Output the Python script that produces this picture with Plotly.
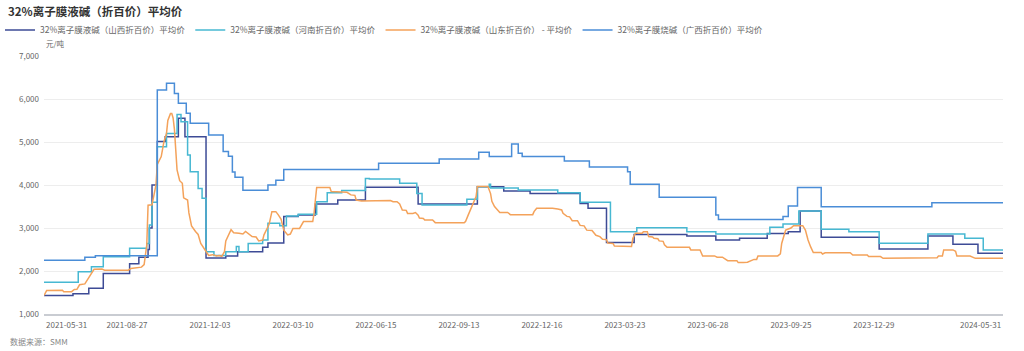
import plotly.graph_objects as go

TITLE = "32%离子膜液碱（折百价）平均价"
UNIT = "元/吨"
SOURCE = "数据来源：SMM"

names = [
    "32%离子膜液碱（山西折百价）平均价",
    "32%离子膜液碱（河南折百价）平均价",
    "32%离子膜液碱（山东折百价） - 平均价",
    "32%离子膜烧碱（广西折百价）平均价",
]
colors = ["#3d4b96", "#47b8d2", "#f4a25a", "#4a8dd7"]

# x-axis tick labels (category labels shown on the axis)
tick_labels = ["2021-05-31", "2021-08-27", "2021-12-03", "2022-03-10", "2022-06-15", "2022-09-13",
               "2022-12-16", "2023-03-23", "2023-06-28", "2023-09-25", "2023-12-29", "2024-05-31"]

# Non-trading weekdays (Chinese market holidays) in the period
holidays = [
    "2021-06-14", "2021-09-20", "2021-09-21", "2021-10-01", "2021-10-04", "2021-10-05", "2021-10-06", "2021-10-07",
    "2022-01-03", "2022-01-31", "2022-02-01", "2022-02-02", "2022-02-03", "2022-02-04", "2022-04-04", "2022-04-05",
    "2022-05-02", "2022-05-03", "2022-05-04", "2022-06-03", "2022-09-12", "2022-10-03", "2022-10-04", "2022-10-05",
    "2022-10-06", "2022-10-07",
    "2023-01-02", "2023-01-23", "2023-01-24", "2023-01-25", "2023-01-26", "2023-01-27", "2023-04-05", "2023-05-01",
    "2023-05-02", "2023-05-03", "2023-06-22", "2023-06-23", "2023-09-29", "2023-10-02", "2023-10-03", "2023-10-04",
    "2023-10-05", "2023-10-06",
    "2024-01-01", "2024-02-09", "2024-02-12", "2024-02-13", "2024-02-14", "2024-02-15", "2024-02-16", "2024-04-04",
    "2024-04-05", "2024-05-01", "2024-05-02", "2024-05-03",
]

# 山西 (step changes: date, price)
shanxi_dates = ["2021-05-31", "2021-07-01", "2021-07-19", "2021-08-03", "2021-08-31", "2021-09-09", "2021-09-22",
                "2021-09-23", "2021-09-27", "2021-10-08", "2021-10-18", "2021-11-01", "2021-11-08", "2021-11-30",
                "2021-12-21", "2022-01-04", "2022-02-07", "2022-02-11", "2022-03-01", "2022-03-16", "2022-04-06",
                "2022-04-29", "2022-06-02", "2022-07-29", "2022-10-10", "2022-11-07", "2022-12-05", "2023-02-03",
                "2023-02-13", "2023-03-03", "2023-04-03", "2023-06-02", "2023-07-06", "2023-08-01", "2023-08-30",
                "2023-09-21", "2023-10-12", "2023-11-03", "2024-01-05", "2024-03-06", "2024-04-02", "2024-05-06",
                "2024-05-31"]
shanxi_vals = [1430, 1470, 1600, 1940, 2170, 2320, 2500,
               3000, 4000, 5010, 5120, 5550, 5120, 2300,
               2350, 2450, 2550, 2650, 3270, 3300, 3560,
               3650, 3950, 3560, 3960, 3860, 3800, 3570,
               3460, 2660, 2850, 2815, 2720, 2760, 2875,
               2915, 3395, 2785, 2510, 2815, 2620, 2410,
               2410]

# 河南
henan_dates = ["2021-05-31", "2021-07-07", "2021-07-21", "2021-08-03", "2021-08-31", "2021-09-17", "2021-09-23",
               "2021-09-27", "2021-10-08", "2021-10-19", "2021-10-29", "2021-11-03", "2021-11-10", "2021-11-12",
               "2021-11-22", "2021-11-25", "2021-11-30", "2021-12-08", "2021-12-21", "2021-12-31", "2022-01-05",
               "2022-01-14", "2022-02-07", "2022-02-11", "2022-02-24", "2022-03-03", "2022-03-16", "2022-04-07",
               "2022-04-19", "2022-05-09", "2022-06-02", "2022-06-08", "2022-07-11", "2022-07-28", "2022-08-03",
               "2022-09-21", "2022-10-10", "2022-10-21", "2022-10-24", "2022-11-22", "2023-01-04", "2023-02-03",
               "2023-03-08", "2023-04-06", "2023-06-02", "2023-07-06", "2023-09-01", "2023-09-15", "2023-10-11",
               "2023-11-03", "2023-12-04", "2024-01-05", "2024-03-06", "2024-04-17", "2024-05-10", "2024-05-31"]
henan_vals = [1740, 1980, 2100, 2330, 2530, 2640, 3070,
              3600, 4890, 5200, 5640, 5470, 4700, 4310,
              3920, 3690, 2450, 2360, 2450, 2570, 2450,
              2640, 2720, 3110, 3050, 3280, 3320, 3610,
              3820, 3870, 4150, 4140, 4040, 3800, 3535,
              3670, 3960, 4020, 3930, 3885, 3822, 3600,
              2915, 3008, 2915, 2860, 3016, 3093, 3395,
              2970, 2915, 2643, 2860, 2760, 2490, 2490]

# 山东
shandong_dates = [
    "2021-05-31", "2021-06-02", "2021-06-21", "2021-06-22", "2021-06-30", "2021-07-02", "2021-07-06", "2021-07-08",
    "2021-07-14", "2021-07-16", "2021-07-21", "2021-07-23", "2021-08-02", "2021-08-04", "2021-08-30", "2021-09-01",
    "2021-09-13", "2021-09-15", "2021-09-17", "2021-09-22", "2021-09-27", "2021-09-30", "2021-10-08", "2021-10-13",
    "2021-10-15", "2021-10-19", "2021-10-20", "2021-10-22", "2021-10-25", "2021-10-26", "2021-10-27", "2021-10-28",
    "2021-10-29", "2021-11-02", "2021-11-04", "2021-11-05", "2021-11-10", "2021-11-11", "2021-11-15", "2021-11-18",
    "2021-11-22", "2021-11-24", "2021-11-29", "2021-12-02", "2021-12-07", "2021-12-10", "2021-12-14", "2021-12-16",
    "2021-12-20", "2021-12-21", "2021-12-27", "2021-12-29", "2022-01-05", "2022-01-10", "2022-01-12", "2022-01-13",
    "2022-01-17", "2022-01-19", "2022-01-24", "2022-01-26", "2022-02-07", "2022-02-08", "2022-02-11", "2022-02-14",
    "2022-02-16", "2022-02-21", "2022-02-23", "2022-02-25", "2022-03-01", "2022-03-04", "2022-03-08", "2022-03-10",
    "2022-03-17", "2022-03-22", "2022-03-31", "2022-04-01", "2022-04-06", "2022-04-07", "2022-04-21", "2022-04-22",
    "2022-05-13", "2022-05-18", "2022-05-23", "2022-05-24", "2022-05-30", "2022-06-20", "2022-06-30", "2022-07-04",
    "2022-07-07", "2022-07-11", "2022-07-13", "2022-07-18", "2022-07-19", "2022-07-25", "2022-07-27", "2022-07-29",
    "2022-08-01", "2022-08-04", "2022-08-05", "2022-08-15", "2022-08-17", "2022-09-19", "2022-09-20", "2022-09-22",
    "2022-09-27", "2022-09-30", "2022-10-10", "2022-10-20", "2022-10-24", "2022-10-25", "2022-10-27", "2022-10-31",
    "2022-11-02", "2022-11-10", "2022-11-14", "2022-12-07", "2022-12-08", "2022-12-12", "2022-12-28", "2023-01-04",
    "2023-01-09", "2023-01-10", "2023-01-13", "2023-01-17", "2023-01-19", "2023-02-01", "2023-02-03", "2023-02-08",
    "2023-02-10", "2023-02-16", "2023-02-21", "2023-02-24", "2023-02-28", "2023-03-03", "2023-03-06", "2023-03-10",
    "2023-03-13", "2023-03-30", "2023-03-31", "2023-04-04", "2023-04-12", "2023-04-13", "2023-04-18", "2023-04-19",
    "2023-04-24", "2023-04-25", "2023-04-28", "2023-05-04", "2023-05-09", "2023-05-10", "2023-05-12", "2023-06-06",
    "2023-06-07", "2023-06-16", "2023-06-20", "2023-07-05", "2023-07-07", "2023-07-13", "2023-07-19", "2023-07-28",
    "2023-07-31", "2023-08-04", "2023-08-09", "2023-08-16", "2023-08-18", "2023-08-21", "2023-09-11", "2023-09-13",
    "2023-09-14", "2023-09-19", "2023-09-25", "2023-09-27", "2023-10-16", "2023-10-18", "2023-10-20", "2023-10-24",
    "2023-10-26", "2023-11-03", "2023-11-06", "2023-11-08", "2023-12-05", "2023-12-07", "2023-12-22", "2023-12-25",
    "2024-01-08", "2024-01-10", "2024-01-22", "2024-01-23", "2024-03-15", "2024-03-18", "2024-03-21", "2024-03-22",
    "2024-04-02", "2024-04-08", "2024-04-09", "2024-04-23", "2024-04-29", "2024-05-31"]
shandong_vals = [
    1430, 1545, 1555, 1520, 1520, 1570, 1575, 1680,
    1700, 1800, 1940, 2040, 2045, 2020, 2020, 2060,
    2090, 2150, 2600, 3530, 3540, 4000, 4480, 4660,
    5000, 5200, 5500, 5660, 5660, 5560, 5300, 4750,
    4350, 4100, 4040, 3700, 3650, 3350, 3050, 2920,
    2850, 2640, 2500, 2360, 2380, 2350, 2360, 2340,
    2450, 2700, 2960, 2890, 2880, 2860, 2920, 2900,
    2850, 2800, 2790, 2700, 2720, 2840, 3030, 3100,
    3380, 3380, 3300, 3200, 2950, 2840, 2860, 2990,
    2990, 3150, 3150, 3340, 3650, 3940, 3940, 3850,
    3830, 3770, 3760, 3650, 3630, 3630, 3640, 3610,
    3610, 3560, 3420, 3410, 3340, 3340, 3360, 3300,
    3230, 3220, 3185, 3185, 3125, 3125, 3150, 3300,
    3500, 3730, 3965, 3965, 3800, 3620, 3500, 3420,
    3360, 3360, 3310, 3310, 3380, 3460, 3460, 3440,
    3420, 3340, 3270, 3260, 3170, 3170, 3060, 3050,
    2950, 2940, 2830, 2800, 2740, 2730, 2650, 2640,
    2580, 2570, 2760, 2880, 2880, 2915, 2915, 2800,
    2790, 2760, 2750, 2700, 2690, 2610, 2550, 2550,
    2490, 2490, 2350, 2350, 2320, 2320, 2240, 2240,
    2195, 2195, 2205, 2270, 2270, 2350, 2350, 2400,
    2640, 2950, 3000, 3055, 3055, 2950, 2720, 2560,
    2430, 2430, 2395, 2425, 2425, 2370, 2370, 2335,
    2335, 2295, 2295, 2310, 2310, 2350, 2350, 2490,
    2490, 2460, 2350, 2350, 2295, 2295]

# 广西
guangxi_dates = ["2021-05-31", "2021-07-14", "2021-07-26", "2021-10-08", "2021-10-19", "2021-10-27", "2021-11-01",
                 "2021-11-09", "2021-11-12", "2021-12-02", "2021-12-17", "2021-12-23", "2021-12-28", "2021-12-30",
                 "2022-01-10", "2022-02-11", "2022-02-21", "2022-03-01", "2022-06-17", "2022-08-22", "2022-10-11",
                 "2022-10-21", "2022-11-15", "2022-11-22", "2022-11-25", "2023-01-11", "2023-02-14", "2023-03-27",
                 "2023-03-29", "2023-05-04", "2023-07-06", "2023-07-10", "2023-09-15", "2023-09-21", "2023-10-10",
                 "2023-11-03", "2024-03-11", "2024-05-31"]
guangxi_vals = [2250, 2320, 2355, 6210, 6365, 6130, 5900,
                5670, 5435, 5165, 4780, 4670, 4300, 4180,
                3880, 4000, 4110, 4360, 4505, 4605, 4760,
                4665, 4955, 4740, 4665, 4560, 4420, 4310,
                4020, 3715, 3300, 3200, 3270, 3510, 3940,
                3495, 3590, 3590]

series = [
    (names[0], shanxi_dates, shanxi_vals, colors[0], "hv"),
    (names[1], henan_dates, henan_vals, colors[1], "hv"),
    (names[2], shandong_dates, shandong_vals, colors[2], "linear"),
    (names[3], guangxi_dates, guangxi_vals, colors[3], "hv"),
]

FONT = "Noto Sans CJK SC, Noto Sans, sans-serif"
W, H = 1024, 351
L, R, T, B = 44, 21, 56, 37
PW, PH = W - L - R, H - T - B

fig = go.Figure()
for name, d, v, c, shape in series:
    fig.add_trace(go.Scatter(x=d, y=v, mode="lines", name=name,
                             line=dict(color=c, width=1.5, shape=shape)))

fig.update_layout(
    width=W, height=H,
    margin=dict(l=L, r=R, t=T, b=B, autoexpand=False),
    paper_bgcolor="white", plot_bgcolor="white",
    font=dict(family=FONT, size=8, color="#666666"),
    title=dict(text=TITLE, xref="container", yref="container", x=8 / W, y=1 - 12 / H,
               xanchor="left", yanchor="middle",
               font=dict(family=FONT, size=11.5, color="#333333", weight="bold")),
    legend=dict(orientation="h", xref="container", yref="container", x=0.0, y=1 - 30 / H,
                xanchor="left", yanchor="middle", font=dict(size=8.5, color="#666666"),
                itemwidth=30, tracegroupgap=0, bgcolor="rgba(0,0,0,0)"),
    showlegend=True,
)

fig.update_xaxes(
    type="date",
    range=[tick_labels[0], tick_labels[-1]],
    rangebreaks=[dict(bounds=["sat", "mon"]), dict(values=holidays)],
    tickmode="array", tickvals=tick_labels[1:-1], ticktext=tick_labels[1:-1],
    showgrid=False, zeroline=False, showline=True, linecolor="#c9ccd2", linewidth=2,
    ticks="", tickfont=dict(size=8, color="#666666"), ticklabelstandoff=2,
)
fig.update_yaxes(
    range=[1000, 7000], dtick=1000, tickformat=",",
    showgrid=True, gridcolor="#ededed", gridwidth=1, zeroline=False, showline=False,
    ticks="", tickfont=dict(size=8, color="#666666"), ticklabelstandoff=4,
)

anns = [
    dict(text=UNIT, xref="paper", yref="paper", x=0, y=1 + 12 / PH, xanchor="left", yanchor="middle",
         showarrow=False, font=dict(size=7.5, color="#666666")),
    dict(text=SOURCE, xref="paper", yref="paper", x=(8 - L) / PW, y=-(341 - (H - B)) / PH, xanchor="left",
         yanchor="middle", showarrow=False, font=dict(size=8, color="#888888")),
    dict(text=tick_labels[0], xref="x", yref="paper", x=tick_labels[0], y=0, xanchor="left", yanchor="top",
         yshift=-3, showarrow=False, font=dict(size=8, color="#666666")),
    dict(text=tick_labels[-1], xref="x", yref="paper", x=tick_labels[-1], y=0, xanchor="right", yanchor="top",
         yshift=-3, showarrow=False, font=dict(size=8, color="#666666")),
]
fig.update_layout(annotations=anns)

fig.write_html("out.html")
